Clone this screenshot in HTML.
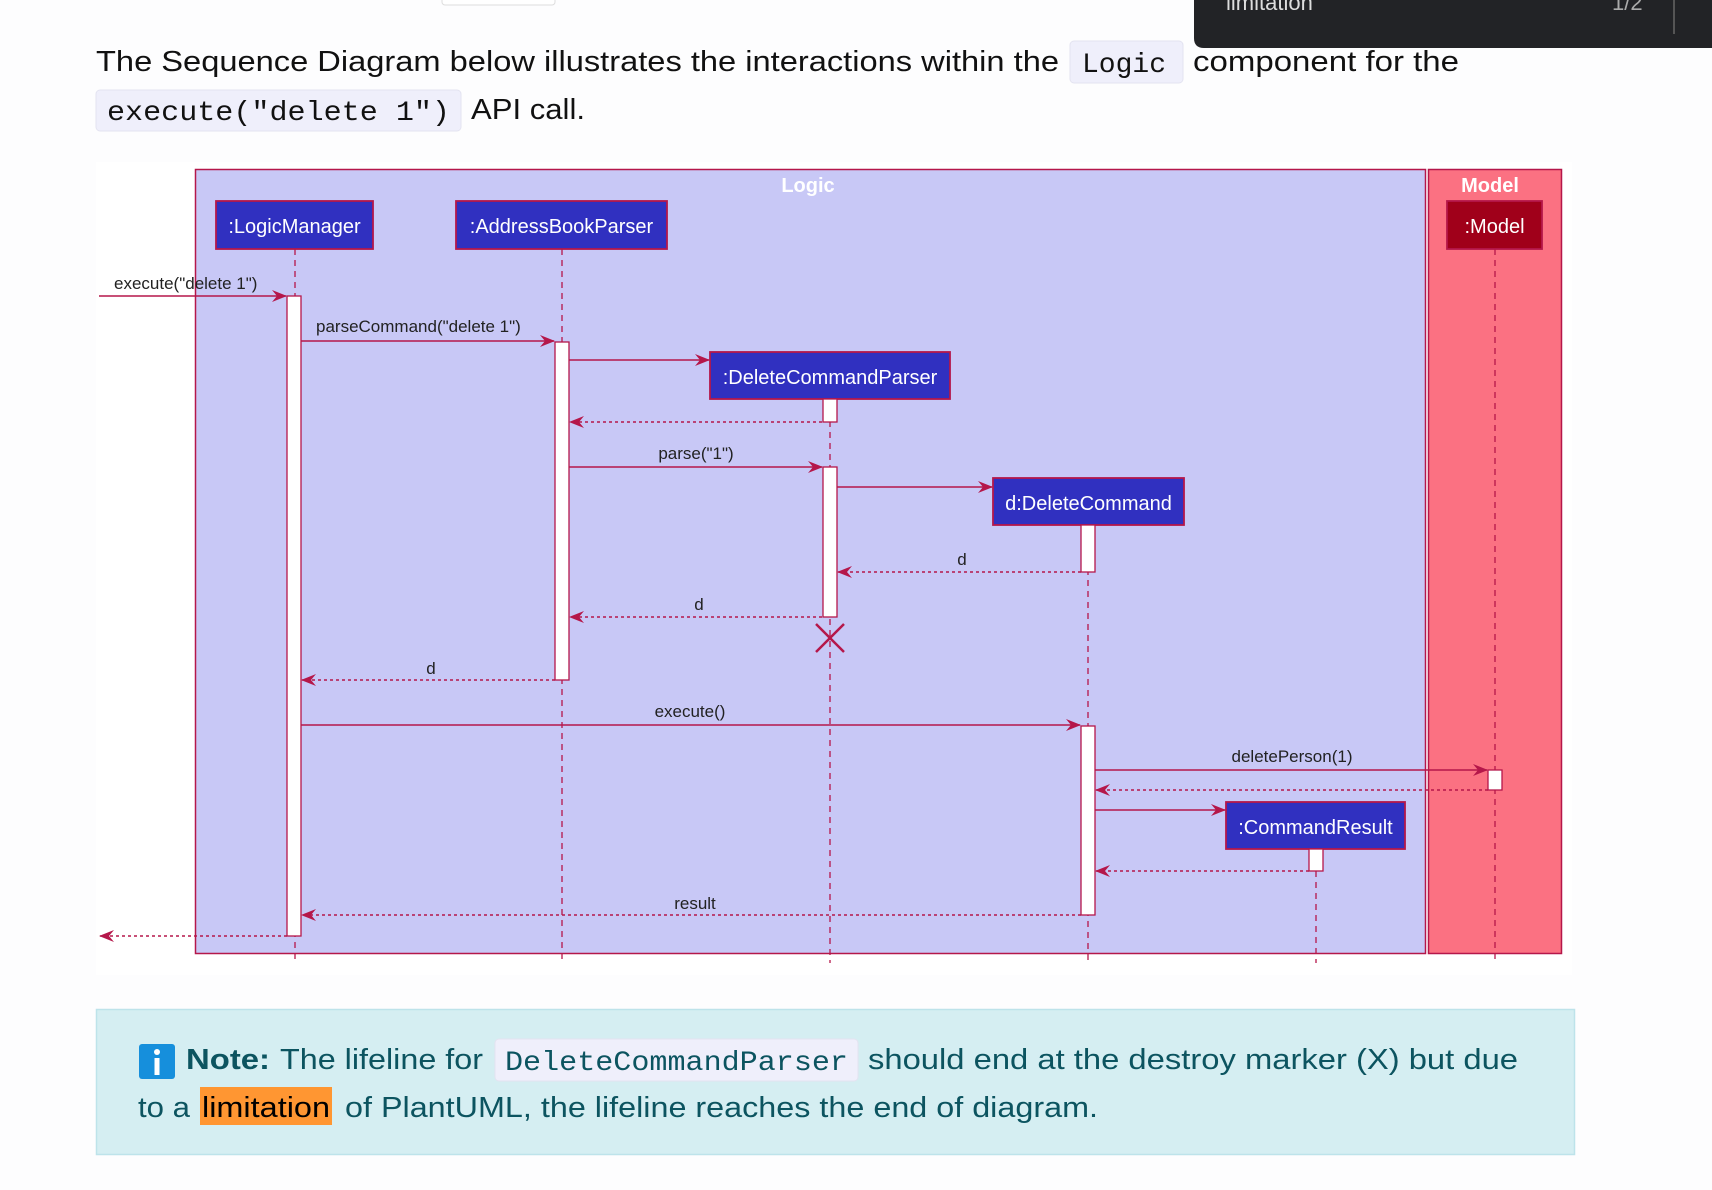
<!DOCTYPE html>
<html><head><meta charset="utf-8"><style>
html,body{margin:0;padding:0;background:#fdfdfe;}
svg{display:block;}
text{font-family:"Liberation Sans",sans-serif;}
.m{font-family:"Liberation Mono",monospace;}
</style></head><body>
<svg width="1712" height="1190" viewBox="0 0 1712 1190" xmlns="http://www.w3.org/2000/svg">
<defs>
<marker id="a" markerWidth="15" markerHeight="12" refX="14" refY="6" orient="auto" markerUnits="userSpaceOnUse">
<path d="M0,0 L15,6 L0,12 L5,6 Z" fill="#b5174a"/></marker>
</defs>
<rect width="1712" height="1190" fill="#fdfdfe"/>
<rect x="442" y="-4" width="113" height="9" rx="3" fill="#fff" stroke="#ddd"/>
<text x="96" y="71" font-size="29" fill="#111" textLength="963" lengthAdjust="spacingAndGlyphs">The Sequence Diagram below illustrates the interactions within the</text>
<rect x="1070" y="41" width="113" height="42" rx="4" fill="#efeffb" stroke="#e3e3f0"/>
<text x="1082" y="72" font-size="28" class="m" fill="#111">Logic</text>
<text x="1193" y="71" font-size="29" fill="#111" textLength="266" lengthAdjust="spacingAndGlyphs">component for the</text>
<rect x="96" y="90" width="365" height="41" rx="4" fill="#efeffb" stroke="#e3e3f0"/>
<text x="107" y="120" font-size="28" class="m" fill="#111" textLength="343" lengthAdjust="spacingAndGlyphs">execute("delete 1")</text>
<text x="471" y="119" font-size="29" fill="#111" textLength="114" lengthAdjust="spacingAndGlyphs">API call.</text>
<path d="M1194,0 H1712 V48 H1204 Q1194,48 1194,38 Z" fill="#222326"/>
<text x="1226" y="10" font-size="22" fill="#ddd">limitation</text>
<text x="1612" y="10" font-size="22" fill="#aaa">1/2</text>
<line x1="1674" y1="0" x2="1674" y2="34" stroke="#555" stroke-width="2"/>
<rect x="96" y="162" width="1476" height="813" fill="#ffffff"/>
<rect x="195.5" y="169.5" width="1230" height="784" fill="#c8c8f6" stroke="#b5174a" stroke-width="1.5"/>
<rect x="1428.5" y="169.5" width="133" height="784" fill="#fb7182" stroke="#b5174a" stroke-width="1.5"/>
<text x="808" y="192" font-size="20" font-weight="bold" fill="#fff" text-anchor="middle">Logic</text>
<text x="1490" y="192" font-size="20" font-weight="bold" fill="#fff" text-anchor="middle">Model</text>
<g stroke="#b5174a" stroke-width="1.3" stroke-dasharray="6,5" fill="none">
<line x1="295" y1="249" x2="295" y2="963"/>
<line x1="562" y1="249" x2="562" y2="963"/>
<line x1="830" y1="399" x2="830" y2="963"/>
<line x1="1088" y1="525" x2="1088" y2="963"/>
<line x1="1316" y1="849" x2="1316" y2="963"/>
<line x1="1495" y1="249" x2="1495" y2="963"/>
</g>
<g stroke="#b5174a" stroke-width="1.8">
<rect x="216" y="201" width="157" height="48" fill="#3030c0"/>
<rect x="456" y="201" width="211" height="48" fill="#3030c0"/>
<rect x="710" y="352" width="240" height="47" fill="#3030c0"/>
<rect x="993" y="478" width="191" height="47" fill="#3030c0"/>
<rect x="1226" y="802" width="179" height="47" fill="#3030c0"/>
<rect x="1447" y="201" width="95" height="48" fill="#a0001a"/>
</g>
<g font-size="20" fill="#fff" text-anchor="middle">
<text x="294.5" y="233">:LogicManager</text>
<text x="561.5" y="233">:AddressBookParser</text>
<text x="830" y="384">:DeleteCommandParser</text>
<text x="1088.5" y="510">d:DeleteCommand</text>
<text x="1315.5" y="834">:CommandResult</text>
<text x="1494.5" y="233">:Model</text>
</g>
<g fill="#fff" stroke="#b5174a" stroke-width="1.3">
<rect x="287" y="296" width="14" height="640"/>
<rect x="555" y="342" width="14" height="338"/>
<rect x="823" y="399" width="14" height="23"/>
<rect x="823" y="467" width="14" height="150"/>
<rect x="1081" y="525" width="14" height="47"/>
<rect x="1081" y="726" width="14" height="189"/>
<rect x="1488" y="770" width="14" height="20"/>
<rect x="1309" y="849" width="14" height="22"/>
</g>
<g stroke="#b5174a" stroke-width="1.4" fill="none" marker-end="url(#a)">
<line x1="99" y1="296" x2="286" y2="296"/>
<line x1="301" y1="341" x2="554" y2="341"/>
<line x1="569" y1="360" x2="709" y2="360"/>
<line x1="569" y1="467" x2="822" y2="467"/>
<line x1="837" y1="487" x2="992" y2="487"/>
<line x1="301" y1="725" x2="1080" y2="725"/>
<line x1="1095" y1="770" x2="1487" y2="770"/>
<line x1="1095" y1="810" x2="1225" y2="810"/>
</g>
<g stroke="#b5174a" stroke-width="1.4" fill="none" stroke-dasharray="3,3" marker-end="url(#a)">
<line x1="822" y1="422" x2="570" y2="422"/>
<line x1="1081" y1="572" x2="838" y2="572"/>
<line x1="822" y1="617" x2="570" y2="617"/>
<line x1="555" y1="680" x2="302" y2="680"/>
<line x1="1488" y1="790" x2="1096" y2="790"/>
<line x1="1309" y1="871" x2="1096" y2="871"/>
<line x1="1081" y1="915" x2="302" y2="915"/>
<line x1="287" y1="936" x2="100" y2="936"/>
</g>
<g stroke="#b5174a" stroke-width="2.5">
<line x1="816" y1="624" x2="844" y2="652"/><line x1="844" y1="624" x2="816" y2="652"/>
</g>
<g font-size="17" fill="#222">
<text x="114" y="289">execute("delete 1")</text>
<text x="316" y="332">parseCommand("delete 1")</text>
<text x="696" y="459" text-anchor="middle">parse("1")</text>
<text x="962" y="565" text-anchor="middle">d</text>
<text x="699" y="610" text-anchor="middle">d</text>
<text x="431" y="674" text-anchor="middle">d</text>
<text x="690" y="717" text-anchor="middle">execute()</text>
<text x="1292" y="762" text-anchor="middle">deletePerson(1)</text>
<text x="695" y="909" text-anchor="middle">result</text>
</g>
<rect x="96.5" y="1009.5" width="1478" height="145" fill="#d5eef2" stroke="#bde3ea" stroke-width="1.5"/>
<rect x="139" y="1044" width="36" height="35" rx="3" fill="#168fdc"/>
<circle cx="157" cy="1052" r="3" fill="#fff"/>
<rect x="154.5" y="1058" width="5" height="17" fill="#fff"/>
<text x="186" y="1069" font-size="29" font-weight="bold" fill="#0c5460" textLength="84" lengthAdjust="spacingAndGlyphs">Note:</text>
<text x="280" y="1069" font-size="29" fill="#0c5460" textLength="203" lengthAdjust="spacingAndGlyphs">The lifeline for</text>
<rect x="495" y="1039" width="363" height="42" rx="4" fill="#efeffb" stroke="#e3e3f0"/>
<text x="505" y="1070" font-size="28" class="m" fill="#0c5460" textLength="343" lengthAdjust="spacingAndGlyphs">DeleteCommandParser</text>
<text x="868" y="1069" font-size="29" fill="#0c5460" textLength="650" lengthAdjust="spacingAndGlyphs">should end at the destroy marker (X) but due</text>
<text x="138" y="1117" font-size="29" fill="#0c5460" textLength="52" lengthAdjust="spacingAndGlyphs">to a</text>
<rect x="200" y="1087" width="132" height="38" fill="#ff9632"/>
<text x="202" y="1117" font-size="29" fill="#000" textLength="128" lengthAdjust="spacingAndGlyphs">limitation</text>
<text x="345" y="1117" font-size="29" fill="#0c5460" textLength="753" lengthAdjust="spacingAndGlyphs">of PlantUML, the lifeline reaches the end of diagram.</text>
</svg>
</body></html>
